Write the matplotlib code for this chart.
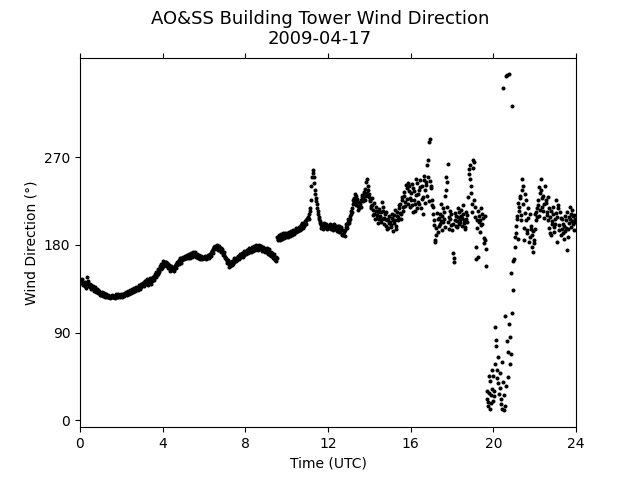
"""AO&SS building tower wind direction for 2009-04-17, read every 1.5 minutes."""

import numpy as np
import matplotlib
matplotlib.use("Agg")
import matplotlib.pyplot as plt

# wind direction (deg) on the full 3-minute steps (20 per hour)
dir_00_12 = [
    144, 143, 141, 142, 139, 138, 140, 147, 141, 138, 137, 139, 136, 135, 136, 134, 133, 134, 132, 131,
    131, 130, 131, 129, 130, 128, 128, 127, 126, 127, 128, 127, 126, 127, 128, 129, 128, 127, 129, 128,
    129, 128, 130, 129, 130, 131, 130, 132, 131, 133, 132, 134, 133, 135, 134, 136, 137, 136, 138, 137,
    139, 141, 140, 143, 142, 141, 144, 143, 142, 145, 144, 147, 146, 149, 152, 150, 154, 156, 155, 158,
    160, 161, 159, 162, 158, 160, 157, 155, 156, 154, 156, 155, 158, 160, 159, 162, 164, 163, 166, 165,
    167, 166, 168, 167, 169, 168, 170, 169, 171, 170, 172, 171, 170, 168, 169, 167, 168, 166, 167, 168,
    167, 166, 168, 167, 169, 168, 170, 172, 174, 176, 178, 179, 177, 178, 176, 175, 177, 174, 172, 170,
    168, 165, 163, 162, 160, 158, 161, 159, 163, 162, 165, 167, 166, 168, 167, 170, 169, 171, 172, 170,
    173, 172, 175, 174, 173, 176, 175, 177, 176, 178, 177, 176, 178, 177, 179, 176, 177, 175, 174, 176,
    175, 173, 174, 172, 171, 169, 170, 168, 167, 165, 163, 188, 186, 189, 187, 190, 188, 191, 189, 190,
    189, 191, 190, 192, 191, 193, 192, 194, 195, 193, 196, 195, 197, 198, 196, 199, 201, 200, 203, 205,
    206, 209, 212, 218, 240, 257, 250, 236, 228, 222, 215, 209, 204, 200, 198, 201, 199, 200, 197, 199,
]
dir_12_24 = [
    199, 198, 200, 197, 199, 198, 200, 196, 198, 195, 197, 199, 194, 196, 191, 190, 195, 198, 200, 203,
    204, 207, 212, 218, 222, 228, 226, 230, 224, 220, 218, 222, 226, 231, 228, 232, 237, 244, 248, 240,
    232, 225, 218, 221, 216, 212, 219, 208, 214, 206, 210, 203, 224, 215, 208, 212, 199, 205, 197, 210,
    203, 200, 208, 194, 211, 205, 199, 214, 209, 218, 222, 212, 226, 219, 230, 224, 238, 243, 235, 228,
    233, 221, 238, 226, 215, 231, 243, 224, 236, 246, 218, 240, 229, 251, 236, 244, 262, 267, 285, 289,
    240, 226, 219, 200, 185, 190, 206, 199, 212, 204, 195, 218, 207, 198, 250, 244, 263, 209, 215, 200,
    195, 172, 166, 205, 210, 198, 209, 214, 203, 216, 208, 212, 202, 196, 207, 211, 253, 262, 240, 222,
    267, 265, 219, 178, 205, 168, 210, 205, 200, 212, 208, 182, 185, 158, 22, 15, 28, 40, 18, 32,
    45, 30, 96, 76, 52, 38, 49, 22, 60, 341, 11, 107, 35, 354, 70, 355, 86, 151, 322, 134,
    165, 188, 199, 210, 223, 215, 228, 211, 248, 240, 185, 232, 205, 195, 218, 188, 199, 190, 173, 182,
    212, 205, 218, 226, 210, 233, 248, 228, 215, 222, 240, 223, 211, 205, 218, 192, 190, 204, 212, 198,
    201, 226, 183, 221, 200, 208, 196, 192, 199, 194, 205, 175, 188, 202, 219, 212, 204, 210, 195, 203,
]

# readings half way between them (1.5 minutes later)
half_00_12 = [
    141, 145, 139, 140, 142, 136, 141, 143, 138, 140, 135, 137, 138, 133, 137, 132, 135, 131, 133, 129,
    129, 132, 128, 131, 127, 130, 126, 129, 128, 125, 129, 126, 128, 125, 130, 127, 130, 129, 127, 130,
    127, 130, 128, 131, 132, 129, 133, 130, 134, 131, 135, 132, 136, 133, 137, 135, 134, 139, 135, 140,
    141, 138, 143, 140, 145, 139, 142, 146, 140, 143, 147, 144, 150, 147, 149, 155, 152, 158, 160, 156,
    163, 158, 162, 160, 161, 156, 159, 153, 158, 157, 153, 158, 156, 162, 161, 160, 166, 161, 164, 168,
    165, 169, 166, 170, 166, 171, 167, 172, 168, 173, 169, 173, 168, 171, 166, 170, 165, 169, 165, 166,
    169, 165, 167, 170, 166, 171, 169, 174, 172, 178, 176, 177, 180, 175, 179, 177, 173, 176, 170, 173,
    166, 167, 161, 164, 157, 162, 159, 163, 160, 166, 163, 164, 169, 165, 171, 168, 172, 168, 174, 173,
    171, 175, 172, 177, 175, 173, 178, 174, 179, 175, 180, 178, 175, 180, 177, 179, 174, 178, 177, 173,
    177, 171, 176, 170, 173, 172, 167, 171, 164, 168, 166, 185, 190, 185, 191, 186, 192, 187, 192, 188,
    192, 188, 193, 189, 194, 190, 195, 191, 193, 197, 194, 198, 195, 200, 202, 197, 199, 204, 201, 207,
    208, 207, 215, 226, 250, 254, 243, 232, 225, 218, 212, 206, 202, 197, 201, 196, 202, 198, 201, 196,
]
half_12_24 = [
    197, 201, 196, 200, 195, 201, 197, 199, 194, 199, 193, 196, 198, 190, 195, 193, 189, 201, 197, 206,
    202, 210, 215, 214, 226, 224, 232, 221, 227, 216, 224, 219, 229, 225, 234, 226, 230, 233, 236, 229,
    226, 220, 228, 211, 223, 207, 215, 211, 202, 217, 209, 214, 207, 219, 201, 206, 214, 196, 207, 202,
    198, 212, 205, 202, 216, 196, 210, 205, 221, 213, 207, 229, 215, 234, 220, 241, 227, 222, 240, 219,
    226, 242, 214, 235, 222, 247, 218, 232, 222, 239, 227, 212, 246, 223, 241, 230, 250, 225, 245, 238,
    221, 212, 205, 183, 197, 213, 193, 208, 201, 222, 210, 203, 214, 230, 236, 219, 203, 196, 206, 212,
    201, 162, 213, 199, 204, 218, 201, 207, 210, 199, 221, 205, 198, 214, 203, 229, 258, 248, 233, 214,
    259, 226, 209, 165, 197, 215, 203, 193, 218, 201, 187, 210, 176, 30, 19, 45, 12, 26, 52, 20,
    25, 58, 82, 43, 65, 27, 33, 17, 12, 39, 26, 15, 353, 81, 44, 99, 58, 68, 110, 163,
    178, 192, 206, 186, 219, 230, 205, 236, 222, 197, 213, 226, 192, 208, 183, 212, 196, 178, 194, 185,
    196, 214, 209, 221, 239, 216, 236, 219, 230, 208, 226, 214, 229, 197, 209, 215, 201, 219, 193, 207,
    213, 209, 218, 195, 214, 190, 207, 201, 186, 210, 197, 214, 196, 209, 206, 198, 216, 201, 211, 207,
]

step = 0.05  # hours (3 minutes)
main_dir = np.array(dir_00_12 + dir_12_24, dtype=float)
half_dir = np.array(half_00_12 + half_12_24, dtype=float)
t_main = np.arange(len(main_dir)) * step
t_half = t_main + step / 2

hours = np.concatenate([t_main, t_half])
direction = np.concatenate([main_dir, half_dir])
order = np.argsort(hours)
hours, direction = hours[order], direction[order]

fig, ax = plt.subplots(figsize=(6.4, 4.8), dpi=100)
ax.plot(hours, direction, "o", color="black", markersize=2.9, markeredgewidth=0)

ax.set_xlim(0, 24)
ax.set_ylim(-7, 372)
ax.set_xticks(np.arange(0, 25, 4))
ax.set_yticks([0, 90, 180, 270])
ax.xaxis.set_ticks_position("both")
ax.set_xlabel("Time (UTC)")
ax.set_ylabel("Wind Direction (\u00b0)")
fig.suptitle("AO&SS Building Tower Wind Direction\n2009-04-17", fontsize=13)

fig.savefig("out.png", dpi=100)
